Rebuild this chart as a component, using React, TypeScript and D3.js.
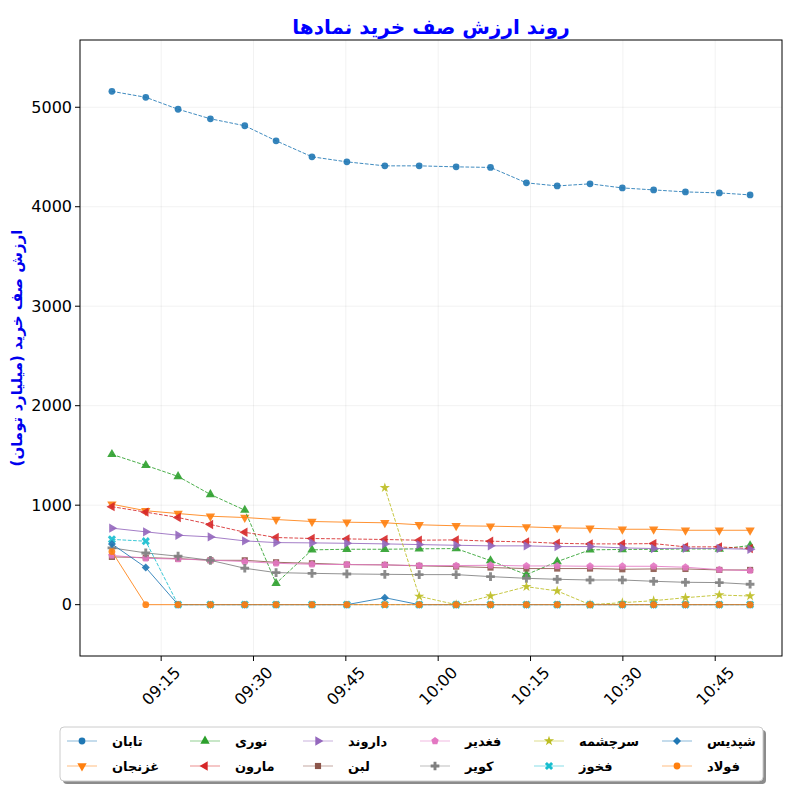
import React from "react";
import * as d3 from "d3";

const times = ["09:07:00","09:12:30","09:17:45","09:23:00","09:28:35","09:33:40","09:39:30","09:45:10","09:51:20","09:56:55","10:02:55","10:08:30","10:14:20","10:19:20","10:24:40","10:29:55","10:35:00","10:40:10","10:45:40","10:50:40"];
const xTickLabels = ["09:15","09:30","09:45","10:00","10:15","10:30","10:45"];
const yTicks = [0, 1000, 2000, 3000, 4000, 5000];

const tabaan = [5160, 5100, 4980, 4884, 4814, 4663, 4502, 4451, 4411, 4411, 4401, 4395, 4240, 4209, 4230, 4189, 4169, 4149, 4139, 4119];
const ghazanjan = [1010, 944, 916, 889, 876, 856, 836, 829, 823, 803, 793, 789, 782, 772, 768, 758, 758, 748, 748, 748];
const nouri = [1511, 1400, 1289, 1108, 950, 214, 551, 557, 557, 561, 564, 443, 302, 433, 551, 555, 556, 560, 560, 594];
const maroon = [985, 930, 876, 806, 728, 675, 665, 661, 655, 648, 651, 638, 631, 617, 611, 611, 614, 581, 581, 564];
const darvand = [769, 732, 698, 681, 641, 624, 621, 617, 611, 604, 597, 591, 591, 584, 584, 571, 564, 567, 564, 557];
const lebn = [480, 473, 463, 446, 446, 426, 416, 403, 400, 390, 383, 373, 363, 363, 363, 356, 359, 359, 349, 349];
const faghadir = [495, 466, 458, 448, 433, 416, 406, 403, 400, 393, 393, 396, 389, 389, 386, 386, 386, 376, 352, 342];
const kavir = [571, 520, 487, 446, 366, 322, 315, 309, 305, 302, 302, 282, 265, 255, 248, 248, 235, 225, 222, 205];
const sarcheshmeh: (number | null)[] = [null, null, null, null, null, null, null, null, 1175, 84, 0, 87, 181, 138, 0, 20, 40, 70, 97, 87];
const fakhuz = [656, 638, 0, 0, 0, 0, 0, 0, 0, 0, 0, 0, 0, 0, 0, 0, 0, 0, 0, 0];
const shapdis = [610, 373, 0, 0, 0, 0, 0, 0, 70, 0, 0, 0, 0, 0, 0, 0, 0, 0, 0, 0];
const fulad = [534, 0, 0, 0, 0, 0, 0, 0, 0, 0, 0, 0, 0, 0, 0, 0, 0, 0, 0, 0];

const seriesNames = ["تابان", "غزنجان", "نوری", "مارون", "داروند", "لبن", "فغدیر", "کویر", "سرچشمه", "فخوز", "شپدیس", "فولاد"];
const seriesValues = [tabaan, ghazanjan, nouri, maroon, darvand, lebn, faghadir, kavir, sarcheshmeh, fakhuz, shapdis, fulad];
const seriesColors = ["#1f77b4", "#ff7f0e", "#2ca02c", "#d62728", "#9467bd", "#8c564b", "#e377c2", "#7f7f7f", "#bcbd22", "#17becf", "#1f77b4", "#ff7f0e"];
const seriesMarkers = ["o", "v", "^", "<", ">", "s", "p", "P", "*", "X", "D", "o"];
const seriesDashed = [true, false, true, true, false, false, false, false, true, true, false, false];

const W = 800, H = 800;
const L = 80, R = 782, T = 40, B = 656;

const parseT = d3.timeParse("%H:%M:%S");
const parseTick = d3.timeParse("%H:%M");
const dates = times.map((t) => parseT(t) as Date);

function markerPath(m: string): { d: string; rot: number } {
  switch (m) {
    case "o": return { d: d3.symbol(d3.symbolCircle, 36)() as string, rot: 0 };
    case "^": return { d: d3.symbol(d3.symbolTriangle, 38)() as string, rot: 0 };
    case "v": return { d: d3.symbol(d3.symbolTriangle, 38)() as string, rot: 180 };
    case "<": return { d: d3.symbol(d3.symbolTriangle, 38)() as string, rot: -90 };
    case ">": return { d: d3.symbol(d3.symbolTriangle, 38)() as string, rot: 90 };
    case "s": return { d: d3.symbol(d3.symbolSquare, 38)() as string, rot: 0 };
    case "D": return { d: d3.symbol(d3.symbolSquare, 32)() as string, rot: 45 };
    case "P": return { d: d3.symbol(d3.symbolCross, 42)() as string, rot: 0 };
    case "X": return { d: d3.symbol(d3.symbolCross, 42)() as string, rot: 45 };
    case "*": return { d: d3.symbol(d3.symbolStar, 32)() as string, rot: 0 };
    case "p": {
      const r = 3.9;
      const pts = d3.range(5).map((i) => {
        const a = -Math.PI / 2 + (i * 2 * Math.PI) / 5;
        return [r * Math.cos(a), r * Math.sin(a)];
      });
      return { d: "M" + pts.map((p) => p.join(",")).join("L") + "Z", rot: 0 };
    }
    default: return { d: d3.symbol(d3.symbolCircle, 36)() as string, rot: 0 };
  }
}

const legendCols = [67, 190, 303, 420, 534, 662];
const legendRows = [741, 766];

export default function App() {
  const ext = d3.extent(dates) as [Date, Date];
  const span = ext[1].getTime() - ext[0].getTime();
  const x = d3.scaleTime()
    .domain([new Date(ext[0].getTime() - span * 0.05), new Date(ext[1].getTime() + span * 0.05)])
    .range([L, R]);
  const maxV = d3.max(seriesValues.flat().filter((v) => v != null) as number[]) as number;
  const y = d3.scaleLinear().domain([-0.1 * maxV, 1.1 * maxV]).range([B, T]);
  const tickDates = xTickLabels.map((t) => parseTick(t) as Date);

  const font = "DejaVu Sans, sans-serif";

  return (
    <svg width={W} height={H} style={{ position: "absolute", left: 0, top: 0, background: "#fff" }} fontFamily={font}>
      <rect x={0} y={0} width={W} height={H} fill="#fff" />
      {tickDates.map((d, i) => (
        <line key={"gx" + i} x1={x(d)} x2={x(d)} y1={T} y2={B} stroke="#000" strokeOpacity={0.07} strokeWidth={0.8} />
      ))}
      {yTicks.map((v, i) => (
        <line key={"gy" + i} x1={L} x2={R} y1={y(v)} y2={y(v)} stroke="#000" strokeOpacity={0.07} strokeWidth={0.8} />
      ))}
      {seriesValues.map((vals, si) => {
        const pts = vals.map((v, i) => ({ d: dates[i], v }));
        const line = d3.line<{ d: Date; v: number | null }>()
          .defined((p) => p.v != null)
          .x((p) => x(p.d))
          .y((p) => y(p.v as number));
        const mk = markerPath(seriesMarkers[si]);
        return (
          <g key={"s" + si}>
            <path d={line(pts) as string} fill="none" stroke={seriesColors[si]} strokeWidth={1}
              strokeOpacity={0.85} strokeDasharray={seriesDashed[si] ? "3.7,1.6" : undefined} />
            {pts.filter((p) => p.v != null).map((p, i) => (
              <path key={i} d={mk.d} transform={`translate(${x(p.d)},${y(p.v as number)}) rotate(${mk.rot})`}
                fill={seriesColors[si]} fillOpacity={0.9} />
            ))}
          </g>
        );
      })}
      <rect x={L} y={T} width={R - L} height={B - T} fill="none" stroke="#000" strokeWidth={1} />
      {yTicks.map((v, i) => (
        <g key={"yt" + i} transform={`translate(${L},${y(v)})`}>
          <line x1={-5} x2={0} stroke="#000" strokeWidth={1} />
          <text x={-8} dy="0.35em" textAnchor="end" fontSize={16} fill="#000">{v}</text>
        </g>
      ))}
      {tickDates.map((d, i) => (
        <g key={"xt" + i}>
          <line x1={x(d)} x2={x(d)} y1={B} y2={B + 5} stroke="#000" strokeWidth={1} />
          <text transform={`translate(${x(d)},${B + 30}) rotate(-45)`} textAnchor="middle" dy="0.35em" fontSize={16} fill="#000">
            {xTickLabels[i]}
          </text>
        </g>
      ))}
      <text x={(L + R) / 2} y={34} textAnchor="middle" fontSize={20} fontWeight="bold" fill="#0000ff">روند ارزش صف خرید نمادها</text>
      <text transform={`translate(22,${(T + B) / 2}) rotate(-90)`} textAnchor="middle" fontSize={15} fontWeight="bold" fill="#0000ee">ارزش صف خرید (میلیارد تومان)</text>
      <rect x={63} y={730} width={703} height={54} rx={4} fill="#000" fillOpacity={0.45} />
      <rect x={60} y={727} width={703} height={54} rx={4} fill="#fff" stroke="#cccccc" strokeWidth={1} />
      {seriesNames.map((name, si) => {
        const col = Math.floor(si / 2);
        const row = si % 2;
        const lx = legendCols[col];
        const ly = legendRows[row];
        const mk = markerPath(seriesMarkers[si]);
        return (
          <g key={"lg" + si}>
            <line x1={lx} x2={lx + 30} y1={ly} y2={ly} stroke={seriesColors[si]} strokeOpacity={0.35} strokeWidth={1.5} />
            <path d={mk.d} transform={`translate(${lx + 15},${ly}) rotate(${mk.rot})`} fill={seriesColors[si]} />
            <text x={lx + 45} y={ly} dy="0.35em" fontSize={13} fontWeight="bold" fill="#000">{name}</text>
          </g>
        );
      })}
    </svg>
  );
}
